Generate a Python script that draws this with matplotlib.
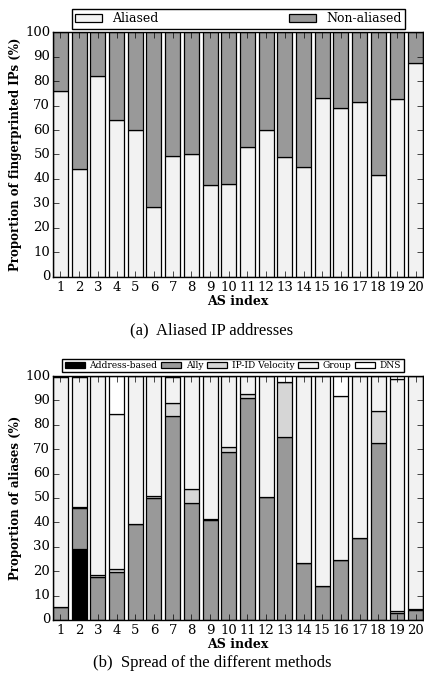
import numpy as np
import matplotlib
matplotlib.use("Agg")
import matplotlib.pyplot as plt

plt.style.use("classic")
plt.rcParams["font.family"] = "DejaVu Serif"

as_index = list(range(1, 21))

# (a) aliased share of fingerprinted IPs
aliased = [76, 44, 82, 64, 60, 28.5, 49.5, 50, 37.5, 38,
           53, 60, 49, 45, 73, 69, 71.5, 41.5, 72.5, 87.5]

# (b) spread of alias resolution methods
addr_based = [0, 29, 0, 0, 0, 0, 0, 0, 0, 0,
              0, 0, 0, 0, 0, 0, 0, 0, 0, 0]
ally = [5.5, 17, 17.5, 19.5, 39.5, 50, 83.5, 48, 41, 69,
        91, 50.5, 75, 23.5, 14, 24.5, 33.5, 72.5, 3, 4]
ipid = [0, 0.5, 1, 1.5, 0, 1, 5.5, 5.5, 0.5, 2,
        1.5, 0, 22.5, 0, 0, 0, 0, 13, 0.5, 0.5]
group = [94, 53, 81.5, 63.5, 60.5, 49, 10.5, 46.5, 58.5, 29,
         7.5, 49.5, 0, 76.5, 86, 67.5, 66.5, 14.5, 95.5, 95.5]
dns = [0.5, 0.5, 0, 15.5, 0, 0, 0.5, 0, 0, 0,
       0, 0, 2.5, 0, 0, 8, 0, 0, 1, 0]

fig = plt.figure(figsize=(4.24, 6.85), dpi=100)
fig.patch.set_facecolor("white")

ax1 = fig.add_axes([0.125, 0.596, 0.873, 0.357])
ax2 = fig.add_axes([0.125, 0.095, 0.873, 0.356])

x = np.array(as_index)
w = 0.8
ekw = dict(width=w, edgecolor="black", linewidth=0.9, align="center")

non_aliased = [100 - a for a in aliased]
ax1.bar(x, aliased, color="#f2f2f2", label="Aliased", **ekw)
ax1.bar(x, non_aliased, bottom=aliased, color="#999999", label="Non-aliased", **ekw)

series = [(addr_based, "black", "Address-based"),
          (ally, "#999999", "Ally"),
          (ipid, "#d6d6d6", "IP-ID Velocity"),
          (group, "#f2f2f2", "Group"),
          (dns, "white", "DNS")]
bottom = np.zeros(len(x))
for vals, col, lab in series:
    ax2.bar(x, vals, bottom=bottom, color=col, label=lab, **ekw)
    bottom += np.array(vals)

for ax, ylab in [(ax1, "Proportion of fingerprinted IPs (%)"),
                 (ax2, "Proportion of aliases (%)")]:
    ax.set_xlim(0.6, 20.4)
    ax.set_ylim(0, 100)
    ax.set_xticks(x)
    ax.set_xticklabels([str(i) for i in as_index], fontsize=9.5)
    ax.set_yticks(range(0, 101, 10))
    ax.tick_params(axis="y", labelsize=9.5, pad=2)
    ax.tick_params(axis="x", pad=3)
    ax.set_xlabel("AS index", fontsize=9, fontweight="bold", labelpad=1)
    ax.set_ylabel(ylab, fontsize=8.5, fontweight="bold", labelpad=2)

ax1.legend(loc="lower left", bbox_to_anchor=(0.05, 1.015, 0.9, 0.06), ncol=2,
           mode="expand", fontsize=9, borderaxespad=0, handlelength=2.2,
           frameon=True, fancybox=False, borderpad=0.25)
ax2.legend(loc="lower left", bbox_to_anchor=(0.025, 1.015), ncol=5,
           fontsize=6.6, borderaxespad=0, handlelength=2.2, columnspacing=0.4,
           handletextpad=0.5, frameon=True, fancybox=False, borderpad=0.25)

fig.text(0.5, 0.518, "(a)  Aliased IP addresses", ha="center", va="center",
         fontsize=12, family="Liberation Serif")
fig.text(0.5, 0.032, "(b)  Spread of the different methods", ha="center", va="center",
         fontsize=12, family="Liberation Serif")

fig.savefig("out.png", dpi=100, facecolor="white")
